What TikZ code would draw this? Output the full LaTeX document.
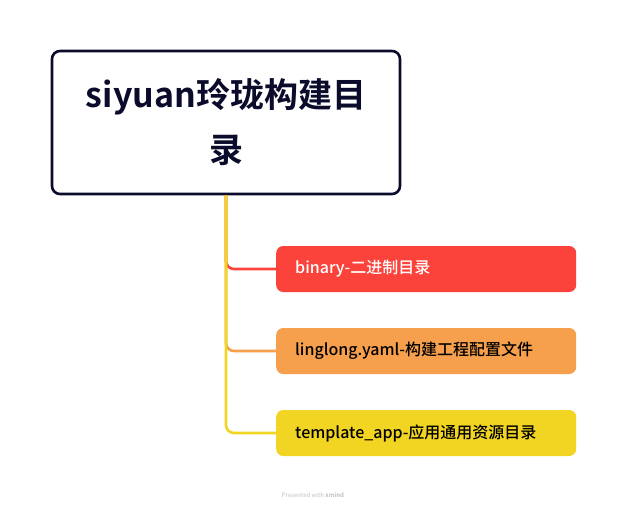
\documentclass[tikz,border=0pt]{standalone}
\usepackage{fontspec}
\setmainfont{Noto Sans CJK SC}[BoldFont={Noto Sans CJK SC Bold}]
\newfontfamily\topicfont{Noto Sans CJK SC Medium}
\usepackage{xcolor}
\usetikzlibrary{positioning}
\definecolor{rootline}{HTML}{0B0B2B}
\definecolor{branchred}{HTML}{FC433B}
\definecolor{branchorange}{HTML}{F6A04D}
\definecolor{branchyellow}{HTML}{F2D422}

\begin{document}
\begin{tikzpicture}[x=1pt,y=-1pt,
  rootbox/.style={draw=rootline,line width=2.6pt,fill=white,rounded corners=8pt,
    minimum width=348pt,minimum height=143pt,align=center,
    font=\fontsize{34}{55}\selectfont\bfseries,text=rootline},
  topicbox/.style={rounded corners=7pt,anchor=west,minimum width=300pt,minimum height=46pt,
    text width=262pt,inner xsep=19pt,align=left,font=\fontsize{16}{18}\selectfont\topicfont},
  branch/.style={line width=2.6pt,rounded corners=8pt}]
  \useasboundingbox (0,0) rectangle (626,507);

  % Draw central topic
  \node[rootbox] (root) at (226,122.5) {siyuan玲珑构建目\\录};

  % Draw sub topics
  \node[topicbox,fill=branchred,text=white] (binary) at (276,269) {binary-二进制目录};
  \node[topicbox,fill=branchorange,text=black] (yaml) at (276,351) {linglong.yaml-构建工程配置文件};
  \node[topicbox,fill=branchyellow,text=black] (tmpl) at (276,433) {template\_app-应用通用资源目录};

  % Draw branches
  \draw[branch,branchred] (root.south) |- (binary.west);
  \draw[branch,branchorange] (root.south) |- (yaml.west);
  \draw[branch,branchyellow] (root.south) |- (tmpl.west);

  % Footer
  \node[text=black!25,font=\fontsize{6}{7}\selectfont] (footer) at (313,495) {Presented with \textbf{xmind}};
\end{tikzpicture}
\end{document}
